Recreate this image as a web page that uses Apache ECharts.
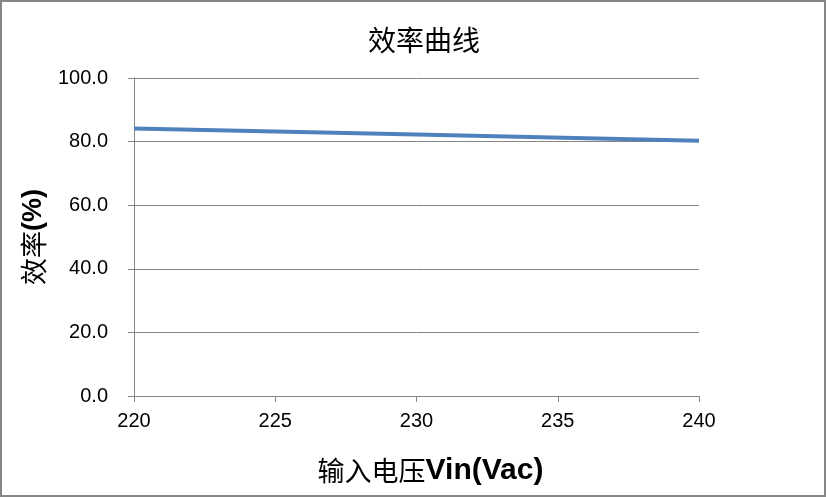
<!DOCTYPE html>
<html>
<head>
<meta charset="utf-8">
<script src="https://cdn.jsdelivr.net/npm/echarts@6/dist/echarts.min.js"></script>
<style>
html,body{margin:0;padding:0;background:#fff;}
#main{width:826px;height:497px;}
</style>
</head>
<body>
<div id="main"></div>
<script>
const titleText = '效率曲线';
const xAxisNameCJK = '输入电压';
const xAxisNameLatin = 'Vin(Vac)';
const yAxisNameCJK = '效率';
const yAxisNameLatin = '(%)';
const voltages = [220, 230, 240];
const efficiency = [84.1, 82.2, 80.3];

const chart = echarts.init(document.getElementById('main'), null, {renderer: 'canvas'});
const gray = '#868686';
chart.setOption({
  animation: false,
  backgroundColor: '#ffffff',
  graphic: [{
    type: 'rect',
    shape: {x: 1, y: 1, width: 824, height: 495},
    style: {fill: 'none', stroke: gray, lineWidth: 2},
    silent: true
  }],
  title: {
    text: titleText,
    left: 363,
    top: 21,
    textStyle: {fontFamily: 'Noto Sans CJK SC', fontSize: 28, fontWeight: 'normal', color: '#000'}
  },
  grid: {left: 134, right: 127, top: 78, bottom: 101, containLabel: false},
  xAxis: {
    type: 'value',
    min: 220, max: 240, interval: 5,
    name: '{a|' + xAxisNameCJK + '}{b|' + xAxisNameLatin + '}',
    nameLocation: 'middle',
    nameGap: 60,
    nameTextStyle: {
      color: '#000',
      padding: [0, 0, 0, 28],
      rich: {
        a: {fontFamily: 'Noto Sans CJK SC', fontSize: 27, fontWeight: 'normal', color: '#000'},
        b: {fontFamily: 'Liberation Sans', fontSize: 30, fontWeight: 'bold', color: '#000'}
      }
    },
    axisLine: {show: true, lineStyle: {color: gray, width: 1}},
    axisTick: {show: true, length: 6, inside: false, lineStyle: {color: gray}},
    axisLabel: {fontFamily: 'Liberation Sans', fontSize: 20, color: '#000', margin: 15},
    splitLine: {show: false}
  },
  yAxis: {
    type: 'value',
    min: 0, max: 100, interval: 20,
    name: '{a|' + yAxisNameCJK + '}{b|' + yAxisNameLatin + '}',
    nameLocation: 'middle',
    nameGap: 83,
    nameRotate: 90,
    nameTextStyle: {
      color: '#000',
      rich: {
        a: {fontFamily: 'Noto Sans CJK SC', fontSize: 27, fontWeight: 'normal', color: '#000'},
        b: {fontFamily: 'Liberation Sans', fontSize: 27, fontWeight: 'bold', color: '#000'}
      }
    },
    axisLine: {show: true, lineStyle: {color: gray, width: 1}},
    axisTick: {show: true, length: 6, inside: false, lineStyle: {color: gray}},
    axisLabel: {fontFamily: 'Liberation Sans', fontSize: 20, color: '#000', margin: 26,
      formatter: v => v.toFixed(1)},
    splitLine: {show: true, lineStyle: {color: gray, width: 1}}
  },
  series: [{
    type: 'line',
    data: voltages.map((v, i) => [v, efficiency[i]]),
    showSymbol: false,
    symbol: 'none',
    lineStyle: {color: '#4F81BD', width: 4},
    itemStyle: {color: '#4F81BD'}
  }]
});
</script>
</body>
</html>
